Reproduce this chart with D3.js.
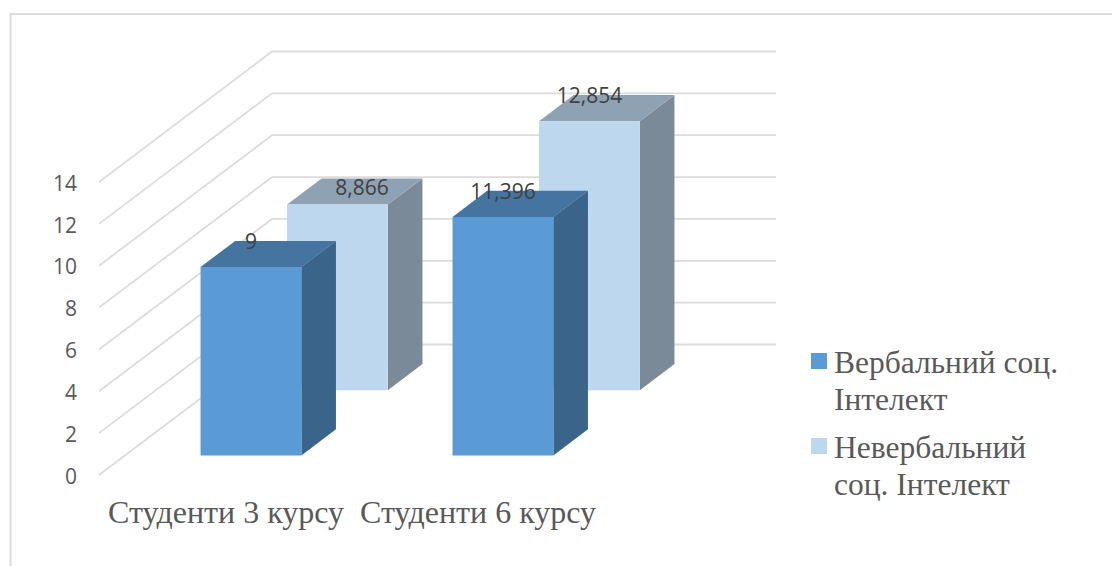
<!DOCTYPE html>
<html>
<head>
<meta charset="utf-8">
<script src="https://cdn.jsdelivr.net/npm/d3@7"></script>
<style>
  body { margin: 0; background: #fff; }
  .num { font-family: "Open Sans", sans-serif; font-size: 21px; }
  .serif { font-family: "Liberation Serif", serif; font-size: 32px; fill: #595959; }
  .legend-text { font-family: "Liberation Serif", serif; font-size: 31.5px; fill: #595959; }
</style>
</head>
<body>
<div id="chart"></div>
<script>
const categories = ['Студенти 3 курсу', 'Студенти 6 курсу'];
const seriesNames = ['Вербальний соц. Інтелект', 'Невербальний соц. Інтелект'];
const verbal = [9, 11.396];
const nonverbal = [8.866, 12.854];
const yTicks = [0, 2, 4, 6, 8, 10, 12, 14];

let conf = {
    width: 1112,
    height: 566,
    left: 99,
    floor: 475,
    top: 182,
    plotWidth: 504,
    depthX: 173,
    depthY: -130.5
};

// face colours per series: front, top, side
const faces = [
    { front: '#5b9bd5', top: '#44749f', side: '#3a6489' },
    { front: '#bdd7ee', top: '#8fa2b3', side: '#7a8a99' }
];

// the 8,866 label is moved off the bar centre in the original
const labelNudge = [
    [[0, 0], [0, 0]],
    [[24.5, 8], [0, 0]]
];

// wrapped legend lines, same words as seriesNames
const legendLines = [
    ['Вербальний соц.', 'Інтелект'],
    ['Невербальний', 'соц. Інтелект']
];

const svg = d3.select('#chart').append('svg')
    .attr('width', conf.width)
    .attr('height', conf.height);

// Scales
let x = d3.scaleBand().domain(categories)
    .range([0, conf.plotWidth]).paddingInner(0.6).paddingOuter(0.3);
let depth = d3.scaleBand().domain(seriesNames)
    .range([0, 1]).paddingInner(0.6).paddingOuter(0.3);
let y = d3.scaleLinear().domain([0, 14]).range([conf.floor, conf.top]);

// 3D point: x along the floor, d into the depth (0..1), v the value
function pt(px, d, v) {
    return [conf.left + px + d * conf.depthX, y(v) + d * conf.depthY];
}
const poly = pts => d3.line()(pts) + 'Z';

// Frame
svg.append('path')
    .attr('d', `M10.5,566V14H${conf.width}`)
    .attr('fill', 'none')
    .attr('stroke', '#dcdcdc')
    .attr('stroke-width', 2);

// Gridlines: side wall and back wall
svg.append('g').selectAll('path').data(yTicks).join('path')
    .attr('d', t => d3.line()([pt(0, 0, t), pt(0, 1, t), pt(conf.plotWidth, 1, t)]))
    .attr('fill', 'none')
    .attr('stroke', '#dcdcdc')
    .attr('stroke-width', 1.8);

// Y axis
svg.append('g')
    .attr('transform', 'translate(77,1.5)')
    .call(d3.axisLeft(y).tickValues(yTicks).tickSize(0).tickPadding(0))
    .call(g => g.select('.domain').remove())
    .call(g => g.selectAll('text').attr('class', 'num').attr('fill', '#595959').attr('font-family', null).attr('font-size', null));

// X axis
let xLabels = d3.scaleBand().domain(categories)
    .range([conf.left, conf.left + conf.plotWidth]).paddingInner(0.6).paddingOuter(0.3);
svg.append('g')
    .attr('transform', 'translate(1,523)')
    .call(d3.axisBottom(xLabels).tickSize(0))
    .call(g => g.select('.domain').remove())
    .call(g => g.selectAll('text').attr('class', 'serif').attr('y', 0).attr('dy', 0));

// Bars: back row first so the front row covers it
const rows = [verbal, nonverbal];
const bars = [];
rows.forEach((vals, s) => vals.forEach((v, c) => bars.push({ s, c, v })));
bars.sort((a, b) => b.s - a.s);

const barG = svg.append('g').selectAll('g').data(bars).join('g');
barG.each(function (b) {
    const g = d3.select(this);
    const x0 = x(categories[b.c]);
    const x1 = x0 + x.bandwidth();
    const d0 = depth(seriesNames[b.s]);
    const d1 = d0 + depth.bandwidth();
    const col = faces[b.s];
    g.append('path').attr('fill', col.side)
        .attr('d', poly([pt(x1, d0, 0), pt(x1, d1, 0), pt(x1, d1, b.v), pt(x1, d0, b.v)]));
    g.append('path').attr('fill', col.top)
        .attr('d', poly([pt(x0, d0, b.v), pt(x0, d1, b.v), pt(x1, d1, b.v), pt(x1, d0, b.v)]));
    g.append('path').attr('fill', col.front)
        .attr('d', poly([pt(x0, d0, 0), pt(x1, d0, 0), pt(x1, d0, b.v), pt(x0, d0, b.v)]));
});

// Data labels
svg.append('g').selectAll('text').data(bars).join('text')
    .attr('class', 'num')
    .attr('fill', '#404040')
    .attr('text-anchor', 'middle')
    .attr('dy', '0.4em')
    .attr('x', b => pt(x(categories[b.c]) + x.bandwidth() / 2, depth(seriesNames[b.s]), b.v)[0] + labelNudge[b.s][b.c][0])
    .attr('y', b => pt(0, depth(seriesNames[b.s]) + depth.bandwidth(), b.v)[1] + labelNudge[b.s][b.c][1])
    .text(b => String(b.v).replace('.', ','));

// Legend
const legend = svg.append('g').selectAll('g').data(seriesNames).join('g')
    .attr('transform', (d, i) => `translate(811,${353 + i * 85})`);
legend.append('rect')
    .attr('width', 16)
    .attr('height', 16)
    .attr('fill', (d, i) => faces[i].front);
legend.append('text')
    .attr('class', 'legend-text')
    .attr('x', 23)
    .attr('y', 20)
    .selectAll('tspan').data((d, i) => legendLines[i]).join('tspan')
    .attr('x', 23)
    .attr('dy', (d, i) => i ? 37 : 0)
    .text(d => d);
</script>
</body>
</html>
